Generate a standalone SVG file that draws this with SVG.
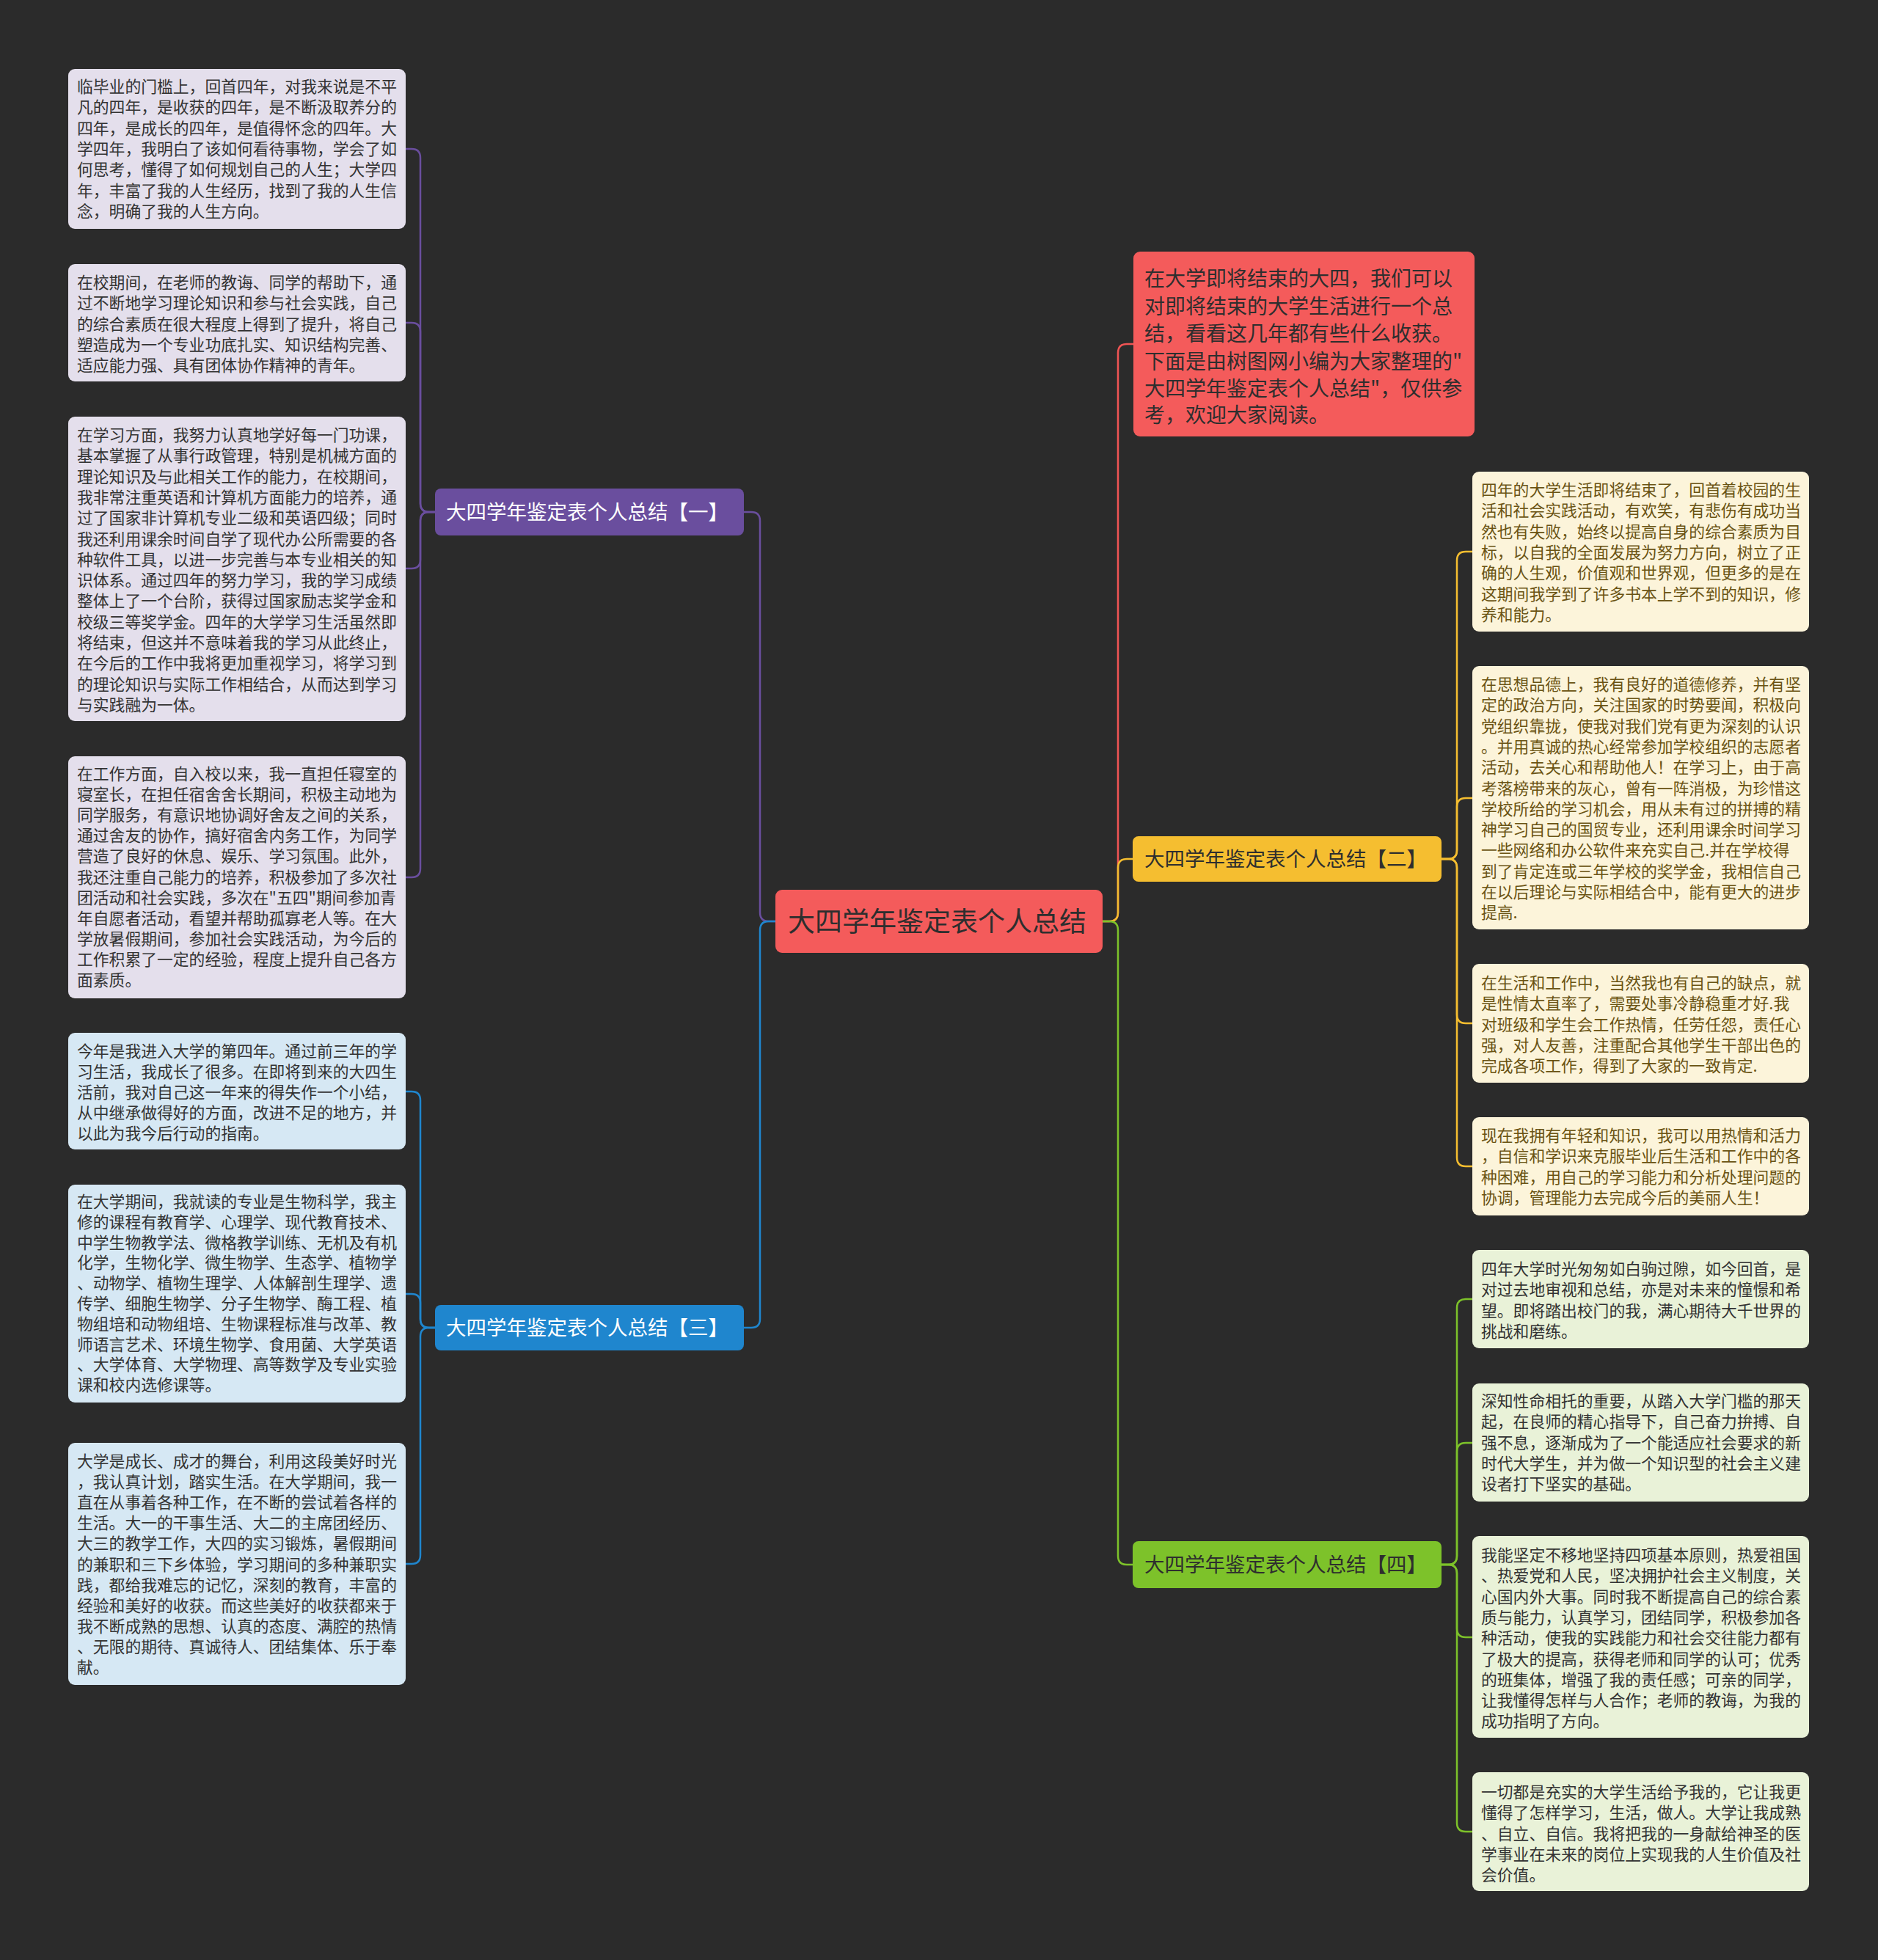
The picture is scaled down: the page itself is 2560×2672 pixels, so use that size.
<svg xmlns="http://www.w3.org/2000/svg" width="2560" height="2672" viewBox="0 0 2560 2672">
<style>
text{font-family:"Noto Sans CJK SC","Noto Sans",sans-serif;}
.lf{font-size:21.8px;}
.lp rect{fill:#E4DFEC;} .lp text{fill:#333333;}
.lb rect{fill:#D6E8F4;} .lb text{fill:#333333;}
.ly rect{fill:#FCF4DA;} .ly text{fill:#6A5313;}
.lg rect{fill:#E9F2D8;} .lg text{fill:#333333;}
.br text{font-size:27.5px;}
.c{fill:none;stroke-width:2.5;}
</style>
<rect width="2560" height="2672" fill="#2B2B2B"/>
<g id="connectors">
<path class="c" stroke="#6A4E9E" d="M1057,1256 H1048 Q1036,1256 1036,1244 V710 Q1036,698 1024,698 H1014"/>
<path class="c" stroke="#1F86CE" d="M1057,1256 H1048 Q1036,1256 1036,1268 V1798 Q1036,1810 1024,1810 H1014"/>
<path class="c" stroke="#F05454" d="M1503,1256 H1512 Q1524,1256 1524,1244 V481 Q1524,469 1536,469 H1545"/>
<path class="c" stroke="#F5BE30" d="M1503,1256 H1512 Q1524,1256 1524,1244 V1183 Q1524,1171 1536,1171 H1544"/>
<path class="c" stroke="#7DC22A" d="M1503,1256 H1512 Q1524,1256 1524,1268 V2121 Q1524,2133 1536,2133 H1544"/>
<g stroke="#6A4E9E">
<path class="c" d="M593,698 H585 Q573,698 573,686 V215 Q573,203 561,203 H553"/>
<path class="c" d="M593,698 H585 Q573,698 573,686 V452 Q573,440 561,440 H553"/>
<path class="c" d="M593,698 H585 Q573,698 573,710 V763 Q573,775 561,775 H553"/>
<path class="c" d="M593,698 H585 Q573,698 573,710 V1184 Q573,1196 561,1196 H553"/>
</g>
<g stroke="#1F86CE">
<path class="c" d="M593,1810 H585 Q573,1810 573,1798 V1500 Q573,1488 561,1488 H553"/>
<path class="c" d="M593,1810 H585 Q573,1810 573,1798 V1776 Q573,1764 561,1764 H553"/>
<path class="c" d="M593,1810 H585 Q573,1810 573,1822 V2120 Q573,2132 561,2132 H553"/>
</g>
<g stroke="#F5BE30">
<path class="c" d="M1965,1171 H1974 Q1986,1171 1986,1159 V764 Q1986,752 1998,752 H2007"/>
<path class="c" d="M1965,1171 H1974 Q1986,1171 1986,1159 V1100 Q1986,1088 1998,1088 H2007"/>
<path class="c" d="M1965,1171 H1974 Q1986,1171 1986,1183 V1383 Q1986,1395 1998,1395 H2007"/>
<path class="c" d="M1965,1171 H1974 Q1986,1171 1986,1183 V1578 Q1986,1590 1998,1590 H2007"/>
</g>
<g stroke="#7DC22A">
<path class="c" d="M1965,2133 H1974 Q1986,2133 1986,2121 V1783 Q1986,1771 1998,1771 H2007"/>
<path class="c" d="M1965,2133 H1974 Q1986,2133 1986,2121 V1979 Q1986,1967 1998,1967 H2007"/>
<path class="c" d="M1965,2133 H1974 Q1986,2133 1986,2145 V2220 Q1986,2232 1998,2232 H2007"/>
<path class="c" d="M1965,2133 H1974 Q1986,2133 1986,2145 V2485 Q1986,2497 1998,2497 H2007"/>
</g>
</g>

<g id="center">
<rect x="1057" y="1213" width="446" height="86" rx="9" fill="#F45B5B"/>
<text x="1074" y="1270" font-size="37" fill="#2E2E2E">大四学年鉴定表个人总结</text>
</g>

<g id="intro">
<rect x="1545" y="343" width="465" height="252" rx="9" fill="#F45B5B"/>
<g font-size="28" fill="#2E2E2E">
<text x="1560" y="390">在大学即将结束的大四，我们可以</text>
<text x="1560" y="428">对即将结束的大学生活进行一个总</text>
<text x="1560" y="465">结，看看这几年都有些什么收获。</text>
<text x="1560" y="503">下面是由树图网小编为大家整理的"</text>
<text x="1560" y="540">大四学年鉴定表个人总结"，仅供参</text>
<text x="1560" y="576">考，欢迎大家阅读。</text>
</g>
</g>

<g id="branch1" class="br">
<rect x="593" y="666" width="421" height="64" rx="8" fill="#6A4E9E"/>
<text x="608" y="708" fill="#FFFFFF">大四学年鉴定表个人总结【一】</text>
</g>
<g id="branch2" class="br">
<rect x="1544" y="1140" width="421" height="62" rx="8" fill="#F5BE30"/>
<text x="1560" y="1181" fill="#2E2E2E">大四学年鉴定表个人总结【二】</text>
</g>
<g id="branch3" class="br">
<rect x="593" y="1779" width="421" height="62" rx="8" fill="#1F86CE"/>
<text x="608" y="1820" fill="#FFFFFF">大四学年鉴定表个人总结【三】</text>
</g>
<g id="branch4" class="br">
<rect x="1544" y="2101" width="421" height="64" rx="8" fill="#7DC22A"/>
<text x="1560" y="2143" fill="#2E2E2E">大四学年鉴定表个人总结【四】</text>
</g>

<g id="leaf1" class="lp lf">
<rect x="93" y="94" width="460" height="218" rx="9"/>
<text x="105" y="126">临毕业的门槛上，回首四年，对我来说是不平</text>
<text x="105" y="154.3">凡的四年，是收获的四年，是不断汲取养分的</text>
<text x="105" y="182.6">四年，是成长的四年，是值得怀念的四年。大</text>
<text x="105" y="210.9">学四年，我明白了该如何看待事物，学会了如</text>
<text x="105" y="239.2">何思考，懂得了如何规划自己的人生；大学四</text>
<text x="105" y="267.5">年，丰富了我的人生经历，找到了我的人生信</text>
<text x="105" y="295.8">念，明确了我的人生方向。</text>
</g>
<g id="leaf2" class="lp lf">
<rect x="93" y="360" width="460" height="160" rx="9"/>
<text x="105" y="393">在校期间，在老师的教诲、同学的帮助下，通</text>
<text x="105" y="421.3">过不断地学习理论知识和参与社会实践，自己</text>
<text x="105" y="449.6">的综合素质在很大程度上得到了提升，将自己</text>
<text x="105" y="477.9">塑造成为一个专业功底扎实、知识结构完善、</text>
<text x="105" y="506.2">适应能力强、具有团体协作精神的青年。</text>
</g>
<g id="leaf3" class="lp lf">
<rect x="93" y="568" width="460" height="415" rx="9"/>
<text x="105" y="601">在学习方面，我努力认真地学好每一门功课，</text>
<text x="105" y="629.3">基本掌握了从事行政管理，特别是机械方面的</text>
<text x="105" y="657.6">理论知识及与此相关工作的能力，在校期间，</text>
<text x="105" y="685.9">我非常注重英语和计算机方面能力的培养，通</text>
<text x="105" y="714.2">过了国家非计算机专业二级和英语四级；同时</text>
<text x="105" y="742.5">我还利用课余时间自学了现代办公所需要的各</text>
<text x="105" y="770.8">种软件工具，以进一步完善与本专业相关的知</text>
<text x="105" y="799.1">识体系。通过四年的努力学习，我的学习成绩</text>
<text x="105" y="827.4">整体上了一个台阶，获得过国家励志奖学金和</text>
<text x="105" y="855.7">校级三等奖学金。四年的大学学习生活虽然即</text>
<text x="105" y="884">将结束，但这并不意味着我的学习从此终止，</text>
<text x="105" y="912.3">在今后的工作中我将更加重视学习，将学习到</text>
<text x="105" y="940.6">的理论知识与实际工作相结合，从而达到学习</text>
<text x="105" y="968.9">与实践融为一体。</text>
</g>
<g id="leaf4" class="lp lf">
<rect x="93" y="1031" width="460" height="330" rx="9"/>
<text x="105" y="1063">在工作方面，自入校以来，我一直担任寝室的</text>
<text x="105" y="1091.1">寝室长，在担任宿舍舍长期间，积极主动地为</text>
<text x="105" y="1119.2">同学服务，有意识地协调好舍友之间的关系，</text>
<text x="105" y="1147.3">通过舍友的协作，搞好宿舍内务工作，为同学</text>
<text x="105" y="1175.4">营造了良好的休息、娱乐、学习氛围。此外，</text>
<text x="105" y="1203.5">我还注重自己能力的培养，积极参加了多次社</text>
<text x="105" y="1231.6">团活动和社会实践，多次在"五四"期间参加青</text>
<text x="105" y="1259.7">年自愿者活动，看望并帮助孤寡老人等。在大</text>
<text x="105" y="1287.8">学放暑假期间，参加社会实践活动，为今后的</text>
<text x="105" y="1315.9">工作积累了一定的经验，程度上提升自己各方</text>
<text x="105" y="1344">面素质。</text>
</g>
<g id="leaf5" class="lb lf">
<rect x="93" y="1408" width="460" height="159" rx="9"/>
<text x="105" y="1441">今年是我进入大学的第四年。通过前三年的学</text>
<text x="105" y="1469">习生活，我成长了很多。在即将到来的大四生</text>
<text x="105" y="1497">活前，我对自己这一年来的得失作一个小结，</text>
<text x="105" y="1525">从中继承做得好的方面，改进不足的地方，并</text>
<text x="105" y="1553">以此为我今后行动的指南。</text>
</g>
<g id="leaf6" class="lb lf">
<rect x="93" y="1615" width="460" height="297" rx="9"/>
<text x="105" y="1646">在大学期间，我就读的专业是生物科学，我主</text>
<text x="105" y="1673.8">修的课程有教育学、心理学、现代教育技术、</text>
<text x="105" y="1701.6">中学生物教学法、微格教学训练、无机及有机</text>
<text x="105" y="1729.4">化学，生物化学、微生物学、生态学、植物学</text>
<text x="105" y="1757.2">、动物学、植物生理学、人体解剖生理学、遗</text>
<text x="105" y="1785">传学、细胞生物学、分子生物学、酶工程、植</text>
<text x="105" y="1812.8">物组培和动物组培、生物课程标准与改革、教</text>
<text x="105" y="1840.6">师语言艺术、环境生物学、食用菌、大学英语</text>
<text x="105" y="1868.4">、大学体育、大学物理、高等数学及专业实验</text>
<text x="105" y="1896.2">课和校内选修课等。</text>
</g>
<g id="leaf7" class="lb lf">
<rect x="93" y="1967" width="460" height="330" rx="9"/>
<text x="105" y="2000">大学是成长、成才的舞台，利用这段美好时光</text>
<text x="105" y="2028.1">，我认真计划，踏实生活。在大学期间，我一</text>
<text x="105" y="2056.2">直在从事着各种工作，在不断的尝试着各样的</text>
<text x="105" y="2084.3">生活。大一的干事生活、大二的主席团经历、</text>
<text x="105" y="2112.4">大三的教学工作，大四的实习锻炼，暑假期间</text>
<text x="105" y="2140.5">的兼职和三下乡体验，学习期间的多种兼职实</text>
<text x="105" y="2168.6">践，都给我难忘的记忆，深刻的教育，丰富的</text>
<text x="105" y="2196.7">经验和美好的收获。而这些美好的收获都来于</text>
<text x="105" y="2224.8">我不断成熟的思想、认真的态度、满腔的热情</text>
<text x="105" y="2252.9">、无限的期待、真诚待人、团结集体、乐于奉</text>
<text x="105" y="2281">献。</text>
</g>

<g id="leafR1" class="ly lf">
<rect x="2007" y="643" width="459" height="218" rx="9"/>
<text x="2019" y="676">四年的大学生活即将结束了，回首着校园的生</text>
<text x="2019" y="704.3">活和社会实践活动，有欢笑，有悲伤有成功当</text>
<text x="2019" y="732.6">然也有失败，始终以提高自身的综合素质为目</text>
<text x="2019" y="760.9">标，以自我的全面发展为努力方向，树立了正</text>
<text x="2019" y="789.2">确的人生观，价值观和世界观，但更多的是在</text>
<text x="2019" y="817.5">这期间我学到了许多书本上学不到的知识，修</text>
<text x="2019" y="845.8">养和能力。</text>
</g>
<g id="leafR2" class="ly lf">
<rect x="2007" y="908" width="459" height="359" rx="9"/>
<text x="2019" y="941">在思想品德上，我有良好的道德修养，并有坚</text>
<text x="2019" y="969.3">定的政治方向，关注国家的时势要闻，积极向</text>
<text x="2019" y="997.6">党组织靠拢，使我对我们党有更为深刻的认识</text>
<text x="2019" y="1025.9">。并用真诚的热心经常参加学校组织的志愿者</text>
<text x="2019" y="1054.2">活动，去关心和帮助他人！在学习上，由于高</text>
<text x="2019" y="1082.5">考落榜带来的灰心，曾有一阵消极，为珍惜这</text>
<text x="2019" y="1110.8">学校所给的学习机会，用从未有过的拼搏的精</text>
<text x="2019" y="1139.1">神学习自己的国贸专业，还利用课余时间学习</text>
<text x="2019" y="1167.4">一些网络和办公软件来充实自己.并在学校得</text>
<text x="2019" y="1195.7">到了肯定连或三年学校的奖学金，我相信自己</text>
<text x="2019" y="1224">在以后理论与实际相结合中，能有更大的进步</text>
<text x="2019" y="1252.3">提高.</text>
</g>
<g id="leafR3" class="ly lf">
<rect x="2007" y="1314" width="459" height="162" rx="9"/>
<text x="2019" y="1348">在生活和工作中，当然我也有自己的缺点，就</text>
<text x="2019" y="1376.3">是性情太直率了，需要处事冷静稳重才好.我</text>
<text x="2019" y="1404.6">对班级和学生会工作热情，任劳任怨，责任心</text>
<text x="2019" y="1432.9">强，对人友善，注重配合其他学生干部出色的</text>
<text x="2019" y="1461.2">完成各项工作，得到了大家的一致肯定.</text>
</g>
<g id="leafR4" class="ly lf">
<rect x="2007" y="1523" width="459" height="134" rx="9"/>
<text x="2019" y="1556">现在我拥有年轻和知识，我可以用热情和活力</text>
<text x="2019" y="1584.3">，自信和学识来克服毕业后生活和工作中的各</text>
<text x="2019" y="1612.6">种困难，用自己的学习能力和分析处理问题的</text>
<text x="2019" y="1640.9">协调，管理能力去完成今后的美丽人生！</text>
</g>
<g id="leafR5" class="lg lf">
<rect x="2007" y="1704" width="459" height="134" rx="9"/>
<text x="2019" y="1738">四年大学时光匆匆如白驹过隙，如今回首，是</text>
<text x="2019" y="1766.3">对过去地审视和总结，亦是对未来的憧憬和希</text>
<text x="2019" y="1794.6">望。即将踏出校门的我，满心期待大千世界的</text>
<text x="2019" y="1822.9">挑战和磨练。</text>
</g>
<g id="leafR6" class="lg lf">
<rect x="2007" y="1886" width="459" height="161" rx="9"/>
<text x="2019" y="1918">深知性命相托的重要，从踏入大学门槛的那天</text>
<text x="2019" y="1946.3">起，在良师的精心指导下，自己奋力拚搏、自</text>
<text x="2019" y="1974.6">强不息，逐渐成为了一个能适应社会要求的新</text>
<text x="2019" y="2002.9">时代大学生，并为做一个知识型的社会主义建</text>
<text x="2019" y="2031.2">设者打下坚实的基础。</text>
</g>
<g id="leafR7" class="lg lf">
<rect x="2007" y="2094" width="459" height="275" rx="9"/>
<text x="2019" y="2128">我能坚定不移地坚持四项基本原则，热爱祖国</text>
<text x="2019" y="2156.3">、热爱党和人民，坚决拥护社会主义制度，关</text>
<text x="2019" y="2184.6">心国内外大事。同时我不断提高自己的综合素</text>
<text x="2019" y="2212.9">质与能力，认真学习，团结同学，积极参加各</text>
<text x="2019" y="2241.2">种活动，使我的实践能力和社会交往能力都有</text>
<text x="2019" y="2269.5">了极大的提高，获得老师和同学的认可；优秀</text>
<text x="2019" y="2297.8">的班集体，增强了我的责任感；可亲的同学，</text>
<text x="2019" y="2326.1">让我懂得怎样与人合作；老师的教诲，为我的</text>
<text x="2019" y="2354.4">成功指明了方向。</text>
</g>
<g id="leafR8" class="lg lf">
<rect x="2007" y="2416" width="459" height="162" rx="9"/>
<text x="2019" y="2451">一切都是充实的大学生活给予我的，它让我更</text>
<text x="2019" y="2479.3">懂得了怎样学习，生活，做人。大学让我成熟</text>
<text x="2019" y="2507.6">、自立、自信。我将把我的一身献给神圣的医</text>
<text x="2019" y="2535.9">学事业在未来的岗位上实现我的人生价值及社</text>
<text x="2019" y="2564.2">会价值。</text>
</g>
</svg>
